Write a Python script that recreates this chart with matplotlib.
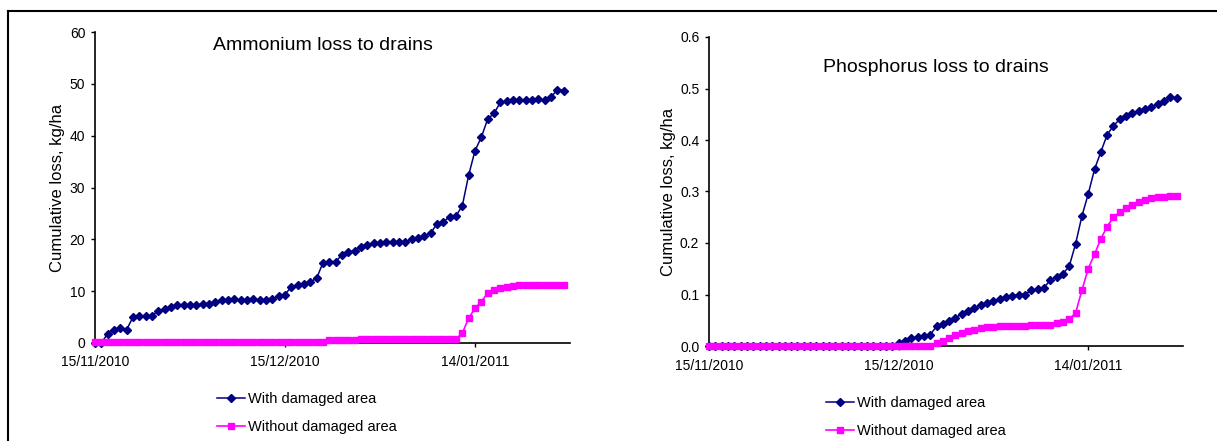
import matplotlib
matplotlib.use('Agg')
import matplotlib.pyplot as plt
import matplotlib.dates as mdates
import pandas as pd
from matplotlib.lines import Line2D

plt.rcParams['font.family'] = ['Liberation Sans', 'DejaVu Sans']

# daily values from 15/11/2010
days = pd.date_range('2010-11-15', periods=75, freq='D')

amm_with = [0, 0, 1.8, 2.5, 2.8, 2.6, 5.0, 5.2, 5.2, 5.3,
            6.2, 6.5, 7.0, 7.4, 7.4, 7.4, 7.4, 7.5, 7.6, 8.0,
            8.3, 8.3, 8.4, 8.3, 8.3, 8.4, 8.3, 8.3, 8.4, 9.0,
            9.3, 10.9, 11.2, 11.4, 11.8, 12.5, 15.5, 15.6, 15.7, 17.0,
            17.5, 17.8, 18.5, 18.9, 19.2, 19.3, 19.4, 19.4, 19.5, 19.5,
            20.0, 20.3, 20.6, 21.2, 23.0, 23.4, 24.3, 24.5, 26.5, 32.4,
            37.1, 39.7, 43.2, 44.3, 46.4, 46.6, 46.8, 46.9, 46.8, 46.9,
            47.0, 46.9, 47.4, 48.9, 48.7]

amm_without = [0.1] * 37 + [0.5] * 5 + [0.8] * 16 + [
    1.9, 4.8, 6.7, 8.0, 9.6, 10.2, 10.7, 10.9, 11.0,
    11.1, 11.1, 11.1, 11.1, 11.1, 11.1, 11.1, 11.1]

p_with = [0.0] * 30 + [
    0.005, 0.010, 0.015, 0.018, 0.020, 0.022, 0.038, 0.042, 0.048, 0.055,
    0.062, 0.068, 0.074, 0.080, 0.084, 0.088, 0.092, 0.096, 0.098, 0.100,
    0.100, 0.108, 0.110, 0.113, 0.128, 0.134, 0.140, 0.155, 0.198, 0.252,
    0.295, 0.343, 0.377, 0.410, 0.428, 0.440, 0.446, 0.452, 0.456, 0.460,
    0.464, 0.470, 0.476, 0.483, 0.482]

p_without = [0.0] * 36 + [
    0.005, 0.010, 0.015, 0.022, 0.026, 0.030, 0.032, 0.034, 0.036, 0.037,
    0.038, 0.038, 0.039, 0.039, 0.039, 0.040, 0.040, 0.040, 0.041, 0.044,
    0.047, 0.052, 0.064, 0.108, 0.150, 0.178, 0.208, 0.232, 0.250, 0.260,
    0.268, 0.274, 0.279, 0.283, 0.287, 0.289, 0.290, 0.291, 0.291]

tick_dates = pd.to_datetime(['2010-11-15', '2010-12-15', '2011-01-14'])
labels = ['With damaged area', 'Without damaged area']

W, H = 1217, 441
fig = plt.figure(figsize=(W / 100, H / 100), dpi=100)

ax1 = fig.add_axes([95 / W, 1 - 343 / H, 475 / W, 311 / H])
ax2 = fig.add_axes([709 / W, 1 - 346 / H, 474 / W, 309 / H])

panels = [
    (ax1, amm_with, amm_without, 60, 10, '%d', (323, 46), 'Ammonium loss to drains', (217, 392)),
    (ax2, p_with, p_without, 0.6, 0.1, '%.1f', (936, 68), 'Phosphorus loss to drains', (826, 396)),
]

for ax, yw, yo, ymax, ystep, fmt, tpos, title, lpos in panels:
    ax.plot(days, yw, color='#000080', marker='D', markersize=4.5, lw=1.1,
            clip_on=False, label=labels[0], zorder=3)
    ax.plot(days, yo, color='#ff00ff', marker='s', markersize=5, lw=1.2,
            clip_on=False, label=labels[1], zorder=4)
    ax.set_xlim(days[0], days[0] + pd.Timedelta(days=75))
    ax.set_ylim(0, ymax)
    ax.set_yticks([i * ystep for i in range(7)])
    ax.yaxis.set_major_formatter(plt.FormatStrFormatter(fmt))
    ax.set_xticks(tick_dates)
    ax.xaxis.set_major_formatter(mdates.DateFormatter('%d/%m/%Y'))
    for s in ['top', 'right']:
        ax.spines[s].set_visible(False)
    for s in ['left', 'bottom']:
        ax.spines[s].set_linewidth(1.2)
    ax.tick_params(direction='out', length=3, width=1, labelsize=10)
    ax.tick_params(axis='x', pad=6)
    ax.tick_params(axis='y', pad=4)
    ax.set_ylabel('Cumulative loss, kg/ha', fontsize=12, labelpad=3)
    fig.text(tpos[0] / W, 1 - tpos[1] / H, title, fontsize=14,
             ha='center', va='center')
    ax.legend(loc='upper left', bbox_to_anchor=(lpos[0] / W, 1 - lpos[1] / H),
              bbox_transform=fig.transFigure, frameon=False, fontsize=10.5,
              borderpad=0, borderaxespad=0, handlelength=1.9,
              handletextpad=0.2, labelspacing=0.95)

# outer frame (only top and left edges visible)
fig.add_artist(Line2D([8 / W, 1], [1 - 11 / H] * 2, color='black', lw=1.5))
fig.add_artist(Line2D([8 / W] * 2, [0, 1 - 11 / H], color='black', lw=1.5))

fig.savefig('out.png', dpi=100)
